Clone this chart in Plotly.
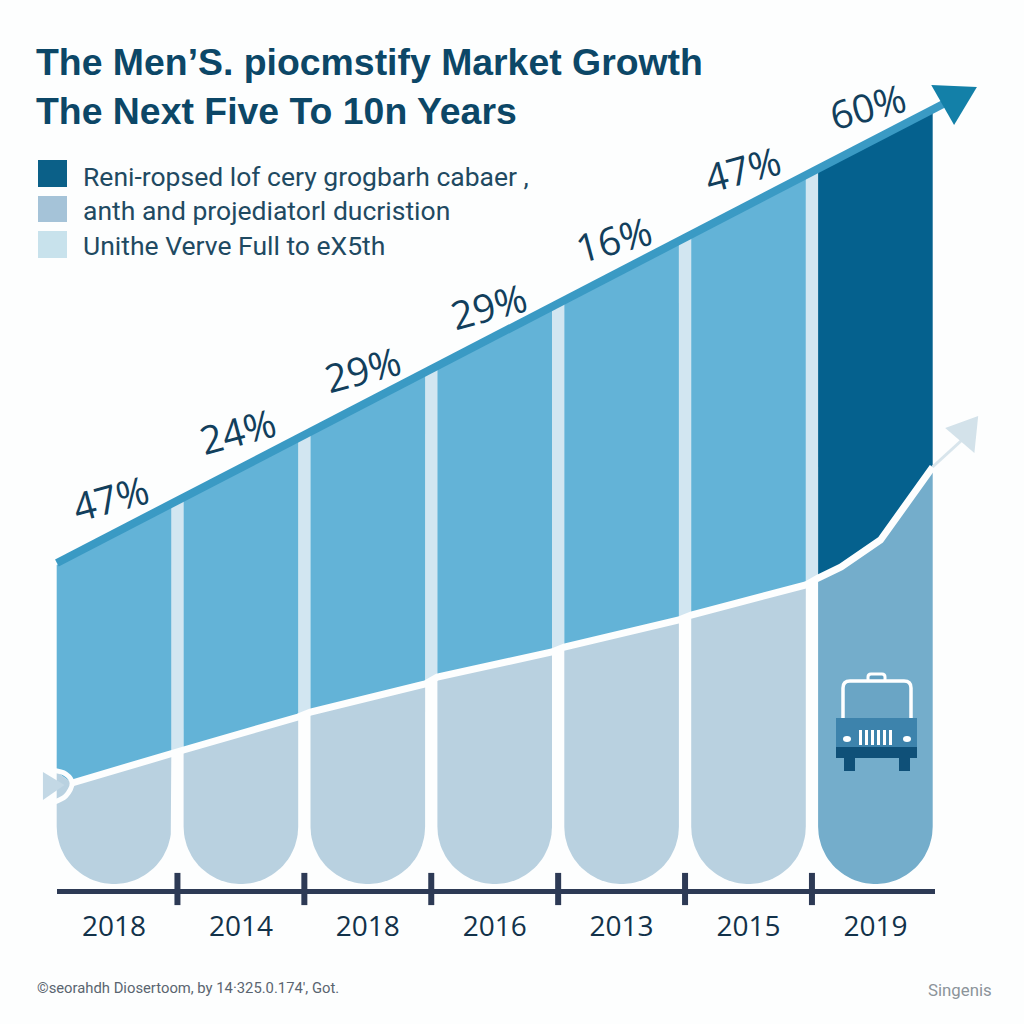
import numpy as np
import plotly.graph_objects as go

# ---------- data ----------
TITLE_LINES = ["The Men’S. piocmstify Market Growth", "The Next Five To 10n Years"]
LEGEND_LABELS = ["Reni-ropsed lof cery grogbarh cabaer ,", "anth and projediatorl ducristion", "Unithe Verve Full to eX5th"]
YEARS = ["2018", "2014", "2018", "2016", "2013", "2015", "2019"]
PERCENT_LABELS = ["47%", "24%", "29%", "29%", "16%", "47%", "60%"]
SLOTS = [0, 1, 2, 3, 4, 5, 6]
TOP_LEFT = [325, 390, 456, 522, 587, 654, 719]
TOP_RIGHT = [384, 449, 515, 581, 647, 713, 779]
LOW_LEFT = [118, 140, 178, 213, 243, 275, 312]
LOW_RIGHT = [135, 173, 206, 238, 270, 305, 423]
CURVE_SLOTS = [5.73, 6.04]
CURVE_VALUES = [323, 350]
LABEL_SLOTS = [-0.03, 0.97, 1.96, 2.95, 3.94, 4.95, 5.94]
LABEL_VALUES = [393, 460, 522, 585, 652, 722, 785]
TOP_LINE_SLOTS = [-0.45, 6.55]
TOP_LINE_VALUES = [327, 787]
TOP_ARROW_SLOTS = [6.44, 6.8, 6.62]
TOP_ARROW_VALUES = [805, 803, 765]
LOW_ARROW_SLOTS = [6.55, 6.81, 6.78]
LOW_ARROW_VALUES = [462, 474, 437]
LOW_TAIL_SLOTS = [6.45, 6.7]
LOW_TAIL_VALUES = [423, 452]
START_ARROW_SLOTS = [-0.56, -0.39, -0.56]
START_ARROW_VALUES = [118, 105, 90]
START_ARC_SLOTS = [-0.49, -0.38, -0.33, -0.38, -0.49]
START_ARC_VALUES = [120, 116, 107, 94, 87]
TICK_SLOTS = [0.5, 1.5, 2.5, 3.5, 4.5, 5.5]
BAR_BOTTOM = 6

# ---------- styling ----------
BG = "#fdfefe"
MID = "#63b3d7"
LIGHT = "#b9d1e0"
DARK = "#05618e"
LOWER_LAST = "#74adcb"
GAP = "#d2e6f1"
INK = "#0c4767"
HALF = 0.4515
PX0, PXS = 114.0, 126.9
sx = lambda px: (px - PX0) / PXS
RADIUS = 57.3
Y2_FLOOR = 1

def fill(xs, ys, color):
    return go.Scatter(x=list(xs), y=list(ys), mode="lines", fill="toself", fillcolor=color,
                      line=dict(width=0, color=color), hoverinfo="skip", showlegend=False)

def arc(center):
    th = np.linspace(0, np.pi, 48)
    return center + HALF * np.cos(th), BAR_BOTTOM + RADIUS - RADIUS * np.sin(th)

fig = go.Figure()

# gaps between columns
for i in SLOTS[:-1]:
    r, l = SLOTS[i] + HALF, SLOTS[i + 1] - HALF
    fig.add_trace(fill([r, l, l, r], [TOP_RIGHT[i], TOP_LEFT[i + 1], LOW_LEFT[i + 1], LOW_RIGHT[i]], GAP))

# columns
for i in SLOTS:
    l, r = SLOTS[i] - HALF, SLOTS[i] + HALF
    last = i == SLOTS[-1]
    if last:
        cx, cy = CURVE_SLOTS, CURVE_VALUES
    elif i == 0:
        cx, cy = [START_ARC_SLOTS[2]], [START_ARC_VALUES[2]]
    else:
        cx, cy = [], []
    fig.add_trace(fill([l, r, r] + cx[::-1] + [l],
                       [TOP_LEFT[i], TOP_RIGHT[i], LOW_RIGHT[i]] + cy[::-1] + [LOW_LEFT[i]],
                       DARK if last else MID))
    ax, ay = arc(SLOTS[i])
    fig.add_trace(fill([l] + cx + [r] + list(ax), [LOW_LEFT[i]] + cy + [LOW_RIGHT[i]] + list(ay),
                       LOWER_LAST if last else LIGHT))

# lower (white) line
lx, ly = [START_ARC_SLOTS[2]], [START_ARC_VALUES[2]]
for i in SLOTS:
    if i > 0:
        lx += [SLOTS[i] - HALF]
        ly += [LOW_LEFT[i]]
    if i == SLOTS[-1]:
        lx += CURVE_SLOTS
        ly += CURVE_VALUES
    lx += [SLOTS[i] + HALF]
    ly += [LOW_RIGHT[i]]
fig.add_trace(go.Scatter(x=lx, y=ly, mode="lines", line=dict(color=BG, width=7), hoverinfo="skip", showlegend=False))
fig.add_trace(go.Scatter(x=START_ARC_SLOTS, y=START_ARC_VALUES, mode="lines", line=dict(color=BG, width=5, shape="spline"),
                         hoverinfo="skip", showlegend=False))
fig.add_trace(fill(START_ARROW_SLOTS, START_ARROW_VALUES, "#c3d8e5"))
fig.add_trace(go.Scatter(x=LOW_TAIL_SLOTS, y=LOW_TAIL_VALUES, mode="lines", line=dict(color="#d8e5ec", width=3),
                         hoverinfo="skip", showlegend=False))
fig.add_trace(fill(LOW_ARROW_SLOTS, LOW_ARROW_VALUES, "#d3e2ea"))

# top line and arrow
fig.add_trace(go.Scatter(x=TOP_LINE_SLOTS, y=TOP_LINE_VALUES, mode="lines", line=dict(color="#3a9ac4", width=8),
                         hoverinfo="skip", showlegend=False))
fig.add_trace(fill(TOP_ARROW_SLOTS, TOP_ARROW_VALUES, "#1380a8"))

# timeline on its own axes
fig.add_trace(go.Scatter(x=TICK_SLOTS, y=[Y2_FLOOR] * len(TICK_SLOTS), mode="markers", xaxis="x2", yaxis="y2", cliponaxis=False,
                         marker=dict(symbol="line-ns", size=23, line=dict(color="#2d3a55", width=6)),
                         hoverinfo="skip", showlegend=False))

annotations = []
for x, y, t in zip(LABEL_SLOTS, LABEL_VALUES, PERCENT_LABELS):
    annotations.append(dict(x=x, y=y, xref="x", yref="y", text=t, showarrow=False, textangle=-15,
                            xanchor="center", yanchor="middle",
                            font=dict(family="Open Sans", size=39, color="#123f5c")))

def ptext(px, py, text, size, color, family, anchor="left"):
    return dict(x=px / 1024, y=1 - py / 1024, xref="paper", yref="paper", text=text, showarrow=False,
                xanchor=anchor, yanchor="middle", font=dict(family=family, size=size, color=color))

for py, t in zip([176, 210, 245], LEGEND_LABELS):
    annotations.append(ptext(81, py, t, 26.5, "#1f4a62", "Roboto"))
annotations.append(ptext(35, 988, "©seorahdh Diosertoom, by 14·325.0.174', Got.", 14.8, "#5a6570", "Roboto"))
annotations.append(ptext(926, 990, "Singenis", 16.8, "#8c949a", "Roboto"))

# legend swatches and truck icon
X = lambda v: v / 1024
Y = lambda v: 1 - v / 1024
def rect(x0, y0, x1, y1, color, line=None, w=0):
    return dict(type="rect", xref="paper", yref="paper", x0=X(x0), y0=Y(y0), x1=X(x1), y1=Y(y1),
                fillcolor=color, line=dict(color=line or color, width=w), layer="above")
def rrect(x0, y0, x1, y1, r, color, line=None, w=0):
    p = (f"M {X(x0)} {Y(y1)} L {X(x0)} {Y(y0 + r)} Q {X(x0)} {Y(y0)} {X(x0 + r)} {Y(y0)} "
         f"L {X(x1 - r)} {Y(y0)} Q {X(x1)} {Y(y0)} {X(x1)} {Y(y0 + r)} L {X(x1)} {Y(y1)} Z")
    return dict(type="path", xref="paper", yref="paper", path=p, fillcolor=color,
                line=dict(color=line or color, width=w), layer="above")
shapes = [
    rect(38, 160, 67, 187, "#0b6088"),
    rect(38, 196, 67, 222, "#a5c3d8"),
    rect(38, 231, 67, 258, "#c8e2ec"),
    rrect(868, 674, 885, 684, 3, "#619fc1", "#ffffff", 3),
    rrect(843, 681, 911, 722, 7, "#6aa5c5", "#ffffff", 3.5),
    rect(836, 718, 917, 748, "#3d83ac"),
    rect(836, 747, 917, 758, "#0f5078"),
    rect(844, 757, 855, 771, "#0f5078"),
    rect(899, 757, 910, 771, "#0f5078"),
    dict(type="circle", xref="paper", yref="paper", x0=X(843), x1=X(851), y0=Y(736), y1=Y(742), fillcolor="#ffffff", line=dict(width=0), layer="above"),
    dict(type="circle", xref="paper", yref="paper", x0=X(903), x1=X(911), y0=Y(736), y1=Y(742), fillcolor="#ffffff", line=dict(width=0), layer="above"),
]
for g in range(859, 895, 6):
    shapes.append(rect(g, 730, g + 3, 745, "#ffffff"))

fig.update_layout(
    width=1024, height=1024, margin=dict(l=0, r=0, t=0, b=0),
    paper_bgcolor=BG, plot_bgcolor="rgba(0,0,0,0)", showlegend=False,
    title=dict(text="<br>".join(TITLE_LINES), x=36 / 1024, xanchor="left", xref="paper",
               y=1 - 75 / 1024, yanchor="middle", yref="paper",
               font=dict(family="Liberation Sans", size=37.4, color=INK, weight="bold")),
    xaxis=dict(range=[sx(0), sx(1024)], domain=[0, 1], visible=False, fixedrange=True),
    yaxis=dict(range=[890 - 1024, 890], domain=[0, 1], visible=False, fixedrange=True),
    xaxis2=dict(range=[sx(57), sx(935)], domain=[57 / 1024, 935 / 1024], anchor="y2", showgrid=False, zeroline=False,
                showline=True, linecolor="#2d3a55", linewidth=5,
                tickmode="array", tickvals=SLOTS, ticktext=YEARS, ticks="outside", ticklen=8, tickwidth=1,
                tickcolor="rgba(0,0,0,0)", tickfont=dict(family="Open Sans", size=28, color="#12324a"), fixedrange=True),
    yaxis2=dict(range=[Y2_FLOOR, 890], domain=[135 / 1024, 1], anchor="x2", visible=False, fixedrange=True),
    annotations=annotations, shapes=shapes,
)
fig.write_html("out.html", config={"displayModeBar": False},
               post_script="document.body.style.margin='0';")
